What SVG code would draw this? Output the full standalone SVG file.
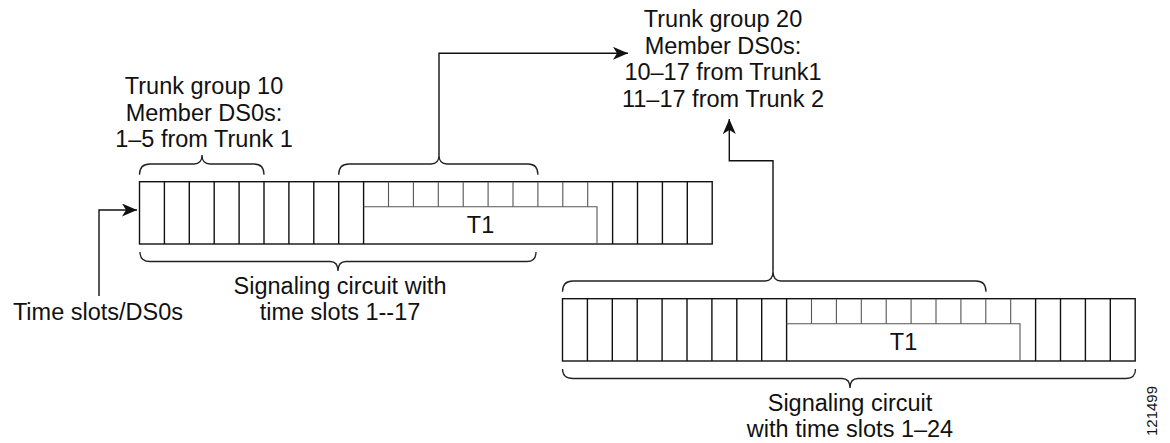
<svg xmlns="http://www.w3.org/2000/svg" xmlns:xlink="http://www.w3.org/1999/xlink" width="1170" height="443" viewBox="0 0 1170 443">
<style>
  .txt { font-family: "Liberation Sans", Arial, sans-serif; font-size: 23.5px; fill: #111; text-anchor: middle; }
  .edge { fill: none; stroke: #111; stroke-width: 1.4; }
  .thin { fill: none; stroke: #555; stroke-width: 1.1; }
  .brace { fill: none; stroke: #222; stroke-width: 1.3; }
  .conn { fill: none; stroke: #111; stroke-width: 1.4; }
</style>
<defs>
  <marker id="arrow" markerUnits="userSpaceOnUse" markerWidth="16" markerHeight="14" refX="15" refY="6.5" orient="auto">
    <path d="M0,0 L15,6.5 L0,13 L4,6.5 z" fill="#111"/>
  </marker>
  <g id="stripShape">
    <rect x="139.5" y="181.7" width="572.7" height="62.3" class="edge"/>
    <path class="edge" d="M164.4,181.7V244 M189.3,181.7V244 M214.2,181.7V244 M239.1,181.7V244 M264,181.7V244 M288.9,181.7V244 M313.8,181.7V244 M338.7,181.7V244 M363.6,181.7V244 M612.6,181.7V244 M637.5,181.7V244 M662.4,181.7V244 M687.3,181.7V244"/>
    <path class="thin" d="M388.5,181.7V206.7 M413.4,181.7V206.7 M438.3,181.7V206.7 M463.2,181.7V206.7 M488.1,181.7V206.7 M513,181.7V206.7 M537.9,181.7V206.7 M562.8,181.7V206.7 M587.7,181.7V206.7"/>
    <path class="thin" d="M363.6,206.7H597V244"/>
    <text class="txt" x="480.5" y="233">T1</text>
  </g>
</defs>

<g id="strip1">
  <use xlink:href="#stripShape"/>
</g>
<g id="strip2" transform="translate(423,117)">
  <use xlink:href="#stripShape"/>
</g>

<g id="braces">
  <path class="brace" d="M139.5,174.7 Q139.5,164 150,164 L194,164 Q202,164 202,155 Q202,164 210,164 L254,164 Q264,164 264,174.7"/>
  <path class="brace" d="M338.7,174.7 Q338.7,164 349,164 L431,164 Q439,164 439,155 Q439,164 447,164 L528,164 Q537.9,164 537.9,174.7"/>
  <path class="brace" d="M140,252 Q140,261.5 150,261.5 L330,261.5 Q338,261.5 338,271 Q338,261.5 346,261.5 L527,261.5 Q536,261.5 536,252"/>
  <path class="brace" d="M562.5,291.7 Q562.5,281 573,281 L765,281 Q773,281 773,271 Q773,281 781,281 L976,281 Q986,281 986,291.7"/>
  <path class="brace" d="M562.5,369 Q562.5,378.5 573,378.5 L842,378.5 Q850,378.5 850,388 Q850,378.5 858,378.5 L1126,378.5 Q1135.5,378.5 1135.5,369"/>
</g>

<g id="connectors">
  <path class="conn" d="M439,155 V53.3 H628" marker-end="url(#arrow)"/>
  <path class="conn" d="M773,271 V160.7 H729.3 V119" marker-end="url(#arrow)"/>
  <path class="conn" d="M99,296 V210 H137" marker-end="url(#arrow)"/>
</g>

<g id="label-tg10">
  <text class="txt" x="204" y="94">Trunk group 10</text>
  <text class="txt" x="204" y="120.5">Member DS0s:</text>
  <text class="txt" x="204" y="147">1–5 from Trunk 1</text>
</g>
<g id="label-tg20">
  <text class="txt" x="723" y="27">Trunk group 20</text>
  <text class="txt" x="723" y="53.5">Member DS0s:</text>
  <text class="txt" x="723" y="80">10–17 from Trunk1</text>
  <text class="txt" x="723" y="106.5">11–17 from Trunk 2</text>
</g>
<g id="label-sig1">
  <text class="txt" x="340" y="294">Signaling circuit with</text>
  <text class="txt" x="340" y="320">time slots 1--17</text>
</g>
<g id="label-timeslots">
  <text class="txt" x="98" y="320">Time slots/DS0s</text>
</g>
<g id="label-sig2">
  <text class="txt" x="850" y="411">Signaling circuit</text>
  <text class="txt" x="850" y="437">with time slots 1–24</text>
</g>
<text x="1157" y="411" transform="rotate(-90 1157 411)" style="font-family:'Liberation Sans',Arial,sans-serif;font-size:15px;fill:#111;text-anchor:middle">121499</text>
</svg>
